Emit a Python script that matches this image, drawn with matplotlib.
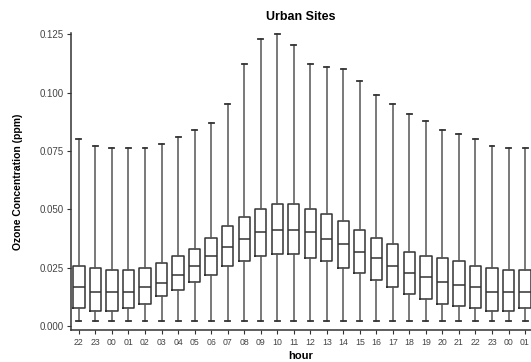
import matplotlib
matplotlib.use('Agg')
import matplotlib.pyplot as plt

plt.rcParams['font.family'] = ['Liberation Sans', 'DejaVu Sans']

# hourly ozone box stats (ppm)
hour_labels = ['22', '23', '00', '01', '02', '03', '04', '05', '06', '07', '08', '09', '10', '11',
               '12', '13', '14', '15', '16', '17', '18', '19', '20', '21', '22', '23', '00', '01']
whis_lo = [0.002] * 28
q1 = [0.0079, 0.0067, 0.0067, 0.0079, 0.0096, 0.0129, 0.0155, 0.0187, 0.0219, 0.0259, 0.0280, 0.0300,
      0.0308, 0.0308, 0.0290, 0.0280, 0.0250, 0.0229, 0.0197, 0.0167, 0.0136, 0.0117, 0.0095, 0.0086,
      0.0078, 0.0067, 0.0067, 0.0078]
median = [0.0167, 0.0145, 0.0145, 0.0145, 0.0167, 0.0186, 0.0219, 0.0259, 0.0300, 0.0340, 0.0371, 0.0401,
          0.0411, 0.0411, 0.0401, 0.0371, 0.0350, 0.0318, 0.0290, 0.0259, 0.0229, 0.0209, 0.0187, 0.0176,
          0.0167, 0.0146, 0.0146, 0.0146]
q3 = [0.0259, 0.0250, 0.0239, 0.0239, 0.0247, 0.0269, 0.0300, 0.0330, 0.0378, 0.0428, 0.0469, 0.0500,
      0.0521, 0.0521, 0.0500, 0.0481, 0.0450, 0.0410, 0.0378, 0.0350, 0.0318, 0.0300, 0.0290, 0.0280,
      0.0259, 0.0250, 0.0239, 0.0239]
whis_hi = [0.0801, 0.0770, 0.0761, 0.0761, 0.0761, 0.0780, 0.0810, 0.0841, 0.0870, 0.0951, 0.1123, 0.1231,
           0.1250, 0.1203, 0.1123, 0.1111, 0.1101, 0.1050, 0.0990, 0.0950, 0.0910, 0.0880, 0.0840, 0.0821,
           0.0803, 0.0771, 0.0763, 0.0763]

stats = []
for i in range(len(hour_labels)):
    stats.append({'whislo': whis_lo[i], 'q1': q1[i], 'med': median[i],
                  'q3': q3[i], 'whishi': whis_hi[i], 'fliers': []})

fig = plt.figure(figsize=(5.31, 3.62), dpi=100)
ax = fig.add_axes([0.133, 0.088, 0.867, 0.821])

DARK = '#333333'
ax.bxp(stats, positions=range(len(stats)), widths=0.68, capwidths=0.3,
       boxprops=dict(color=DARK, linewidth=1.1),
       medianprops=dict(color=DARK, linewidth=1.1),
       whiskerprops=dict(color='#555555', linewidth=1.1),
       capprops=dict(color=DARK, linewidth=1.3),
       showfliers=False)

ax.set_xlim(-0.5, 27.36)
ax.set_ylim(-0.0017, 0.1255)
ax.set_yticks([0.0, 0.025, 0.05, 0.075, 0.1, 0.125])
ax.set_yticklabels(['0.000', '0.025', '0.050', '0.075', '0.100', '0.125'])
ax.set_xticks(range(len(hour_labels)))
ax.set_xticklabels(hour_labels)

for s in ['top', 'right']:
    ax.spines[s].set_visible(False)
for s in ['left', 'bottom']:
    ax.spines[s].set_color(DARK)
    ax.spines[s].set_linewidth(1.1)

ax.tick_params(axis='y', labelsize=7, length=3, colors=DARK, labelcolor='#444444', pad=2)
ax.tick_params(axis='x', labelsize=6.3, length=3, colors=DARK, labelcolor='#444444', pad=3)

ax.set_title('Urban Sites', fontsize=9, fontweight='bold', pad=9)
ax.set_xlabel('hour', fontsize=8, fontweight='bold', labelpad=2.5)
ax.set_ylabel('Ozone Concentration (ppm)', fontsize=7.5, fontweight='bold', labelpad=12)

fig.savefig('out.png', dpi=100)
